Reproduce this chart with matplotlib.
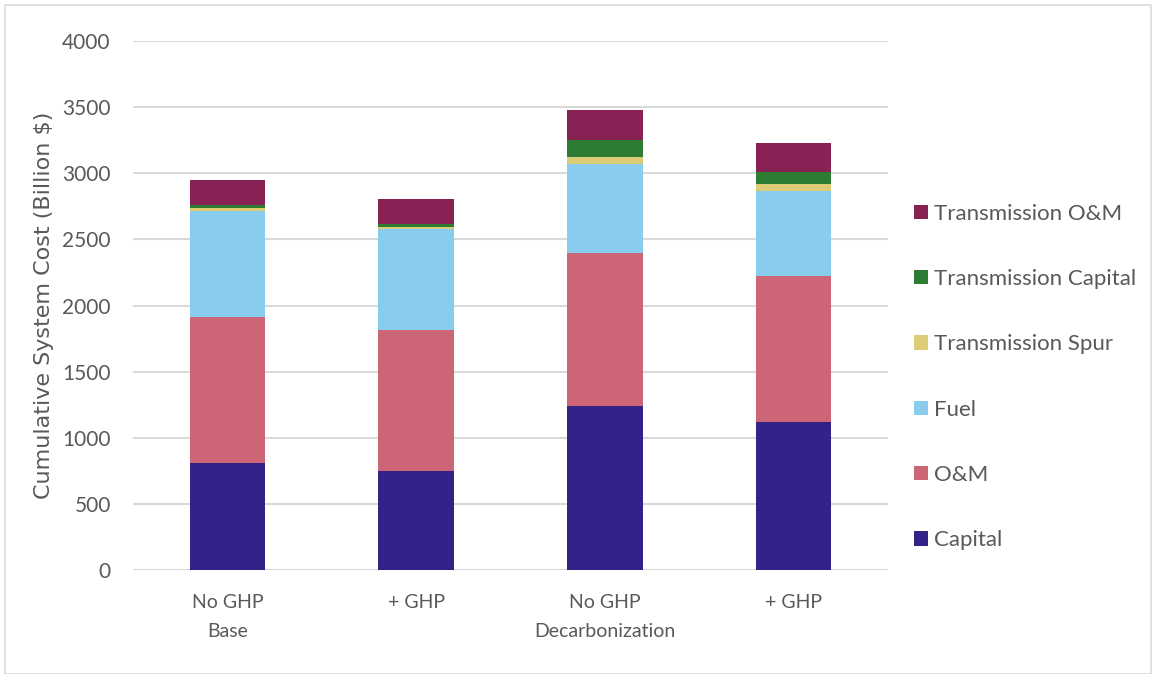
import numpy as np
import matplotlib.pyplot as plt
from matplotlib.patches import Rectangle

scenarios = ["No GHP\nBase", "+ GHP", "No GHP\nDecarbonization", "+ GHP"]
components = ["Capital", "O&M", "Fuel", "Transmission Spur",
              "Transmission Capital", "Transmission O&M"]

capital = [809, 748, 1240, 1119]
om = [1104, 1066, 1157, 1104]
fuel = [801, 762, 672, 645]
trans_spur = [25, 19, 53, 50]
trans_capital = [21, 23, 129, 91]
trans_om = [188, 187, 227, 219]

colors = ["#332288", "#CC6677", "#88CCEE", "#DDCC77", "#2E7B33", "#882255"]
text_color = "#595959"

plt.rcParams['font.family'] = ['Lato', 'DejaVu Sans']

fig = plt.figure(figsize=(11.52, 6.74), dpi=100)
ax = fig.add_axes([133 / 1152, 1 - 570 / 674, (888 - 133) / 1152, (570 - 41) / 674])

x = np.arange(len(scenarios))
bottom = np.zeros(len(scenarios))
handles = []
for name, vals, c in zip(components,
                         [capital, om, fuel, trans_spur, trans_capital, trans_om],
                         colors):
    h = ax.bar(x, vals, width=0.4, bottom=bottom, color=c, label=name, zorder=3)
    handles.append(h)
    bottom += np.array(vals)

ax.set_xlim(-0.5, 3.5)
ax.set_ylim(0, 4000)
ax.set_yticks(range(0, 4001, 500))
ax.set_xticks(x)
ax.set_xticklabels(scenarios, linespacing=1.85)
ax.tick_params(axis='both', length=0, colors=text_color)
ax.tick_params(axis='x', pad=17, labelsize=14)
ax.tick_params(axis='y', pad=16, labelsize=15)
ax.grid(axis='y', color="#D9D9D9", linewidth=1.5, zorder=0)
for s in ax.spines.values():
    s.set_visible(False)

ax.set_ylabel("Cumulative System Cost (Billion $)", color=text_color,
              fontsize=16, fontfamily='DejaVu Sans')
ax.yaxis.set_label_coords(-0.105, 0.5)

leg = fig.legend(handles[::-1], components[::-1], loc='center left',
                 bbox_to_anchor=(894 / 1152, 1 - 377 / 674), frameon=False,
                 fontsize=16, labelspacing=2.04, handlelength=0.62,
                 handleheight=0.62, handletextpad=0.3)
for t in leg.get_texts():
    t.set_color(text_color)

fig.patches.append(Rectangle((5 / 1152, 0), 1 - 5 / 1152 - 0.001, 1 - 5 / 674,
                             transform=fig.transFigure, fill=False,
                             edgecolor="#D9D9D9", linewidth=1.2))

fig.savefig("out.png", dpi=100)
